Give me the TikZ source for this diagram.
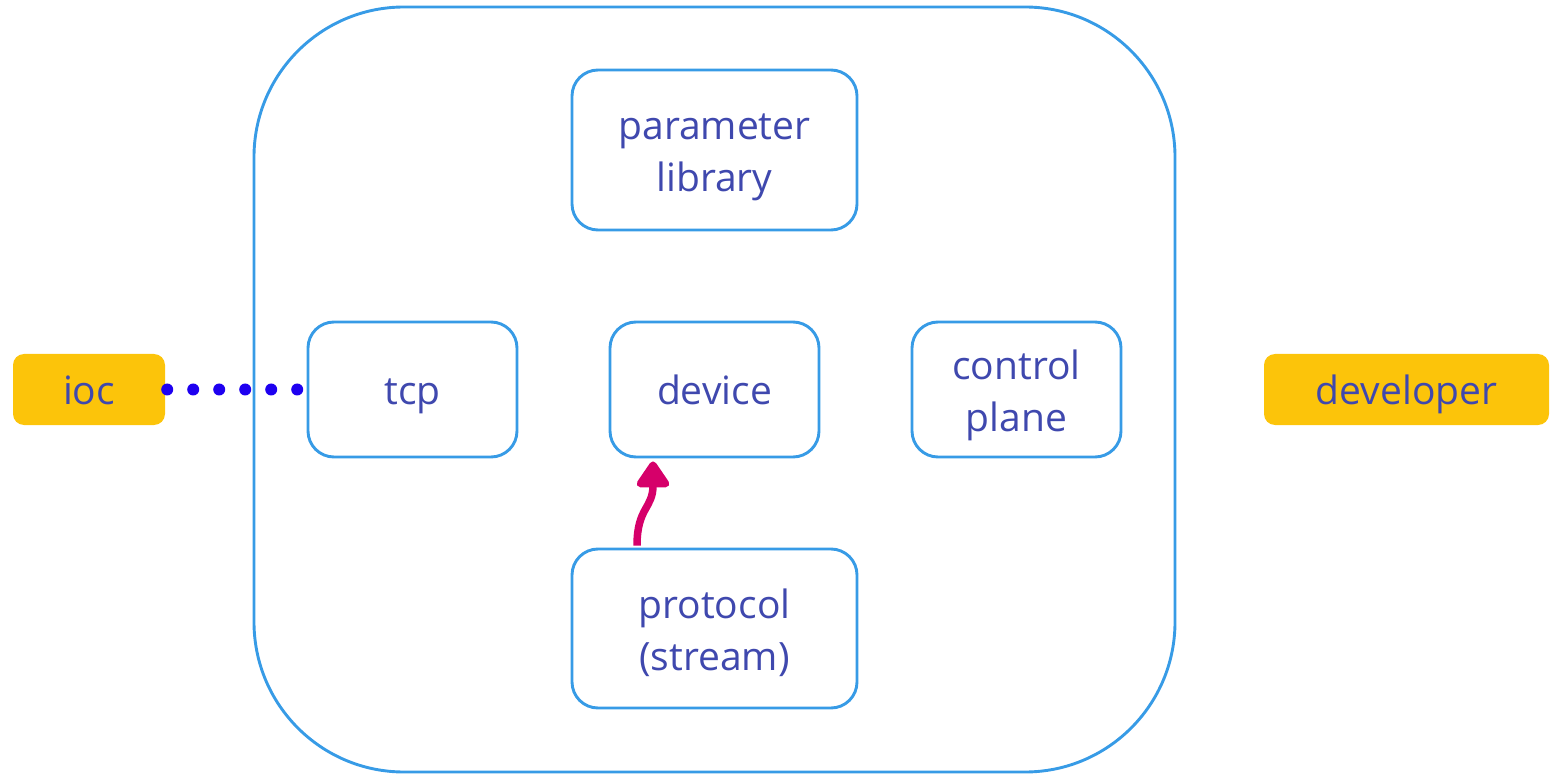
\documentclass[tikz,border=0pt]{standalone}
\usepackage{fontspec}
\setmainfont{Open Sans}
\usetikzlibrary{arrows.meta,calc}
\definecolor{txt}{RGB}{63,72,174}
\definecolor{edge}{RGB}{55,155,230}
\definecolor{gold}{RGB}{252,196,10}
\definecolor{pink}{RGB}{214,0,106}
\definecolor{dotblue}{RGB}{30,0,240}
\begin{document}
\begin{tikzpicture}[x=1pt,y=-1pt,
  comp/.style={draw=edge,line width=2.9pt,rounded corners=26pt,fill=white,
    text=txt,align=center,inner sep=0pt,font=\fontsize{39}{52}\selectfont},
  actor/.style={fill=gold,rounded corners=11pt,text=txt,inner sep=0pt,
    font=\fontsize{39}{52}\selectfont},
  oneline/.style={text height=36pt,text depth=5pt},
  twoline/.style={text height=89pt,text depth=5pt},
  dots/.style={dotblue,line width=12pt,line cap=round,dash pattern=on 0pt off 26pt},
  flow/.style={pink,line width=7.5pt,line join=round,-{Triangle[length=29pt,width=37pt,round]}}]
\useasboundingbox (0,0) rectangle (1550,775);
\node[draw=edge,line width=2.9pt,rounded corners=150pt,minimum width=921pt,minimum height=765pt,inner sep=0pt] (sys) at (714.5,389.5) {};
\node[comp,twoline,minimum width=285pt,minimum height=160pt] (param) at (714.5,150) {parameter\\library};
\node[comp,oneline,minimum width=209pt,minimum height=135pt] (tcp) at (412.5,389.5) {tcp};
\node[comp,oneline,minimum width=209pt,minimum height=135pt] (dev) at (714.5,389.5) {device};
\node[comp,twoline,minimum width=209pt,minimum height=135pt] (ctl) at (1016.5,389.5) {control\\plane};
\node[comp,twoline,minimum width=285pt,minimum height=159pt] (proto) at (714.5,628.5) {protocol\\(stream)};
\node[actor,oneline,minimum width=152pt,minimum height=71pt] (ioc) at (89,389.5) {ioc};
\node[actor,oneline,minimum width=285pt,minimum height=71pt] (developer) at (1406.5,389.5) {developer};
\draw[dots] ($(ioc.east)+(2,0)$) -- (tcp.west);
\draw[flow] ($(proto.north)+(-77.5,-2)$) .. controls ($(proto.north)+(-77.5,-40)$) and ($(dev.south)+(-61.5,50)$) .. ($(dev.south)+(-61.5,3)$);
\end{tikzpicture}
\end{document}
